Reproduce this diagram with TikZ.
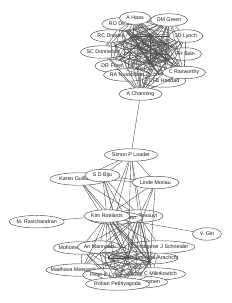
\documentclass[tikz,border=0pt]{standalone}
\usepackage{fontspec}
\setmainfont{Liberation Sans}
\usetikzlibrary{shapes.geometric}
\pgfdeclarelayer{bg}
\pgfdeclarelayer{mid}
\pgfsetlayers{bg,mid,main}
\newcommand\mb[1]{\makebox[0pt]{#1}}
\newcommand\mkclique[1]{%
  \foreach \a [count=\i] in {#1}{%
    \foreach \b [count=\j] in {#1}{%
      \ifnum\j>\i\relax \draw[ed] (\a) -- (\b);\fi}}}
\begin{document}
\begin{tikzpicture}[x=1pt,y=-1pt,
  nd/.style={ellipse,draw=black!72,fill=white,line width=0.45pt,inner sep=0pt,
    minimum height=12.5pt,font=\fontsize{5.3}{6}\selectfont,text=black!90},
  ed/.style={draw=black!68,line width=0.4pt}]
\useasboundingbox (0,0) rectangle (231,303);
% ---------- nodes under the edges
\begin{pgfonlayer}{bg}
\node[nd,minimum width=38pt] (desa) at (121,24) {\mb{RO De Sá}};
\node[nd,minimum width=41pt] (drewes) at (111,36) {\mb{RC Drewes}};
\node[nd,minimum width=34pt] (lynch) at (186,36) {\mb{JD Lynch}};
\node[nd,minimum width=45pt] (donn) at (103,52) {\mb{SC Donnellan}};
\node[nd,minimum width=33pt] (bain) at (185,54) {\mb{RH Bain}};
\node[nd,minimum width=34pt] (frost) at (112,66) {\mb{DR Frost}};
\node[nd,minimum width=47pt] (nuss) at (127,75) {\mb{RA Nussbaum}};
\node[nd,minimum width=44pt] (haddad) at (164,81) {\mb{CFB Haddad}};
\node[nd,minimum width=58pt] (karen) at (79,179) {\mb{Karen Guillaume}};
\node[nd,minimum width=48pt] (bossuyt) at (139,216) {\mb{Franky Bossuyt}};
\node[nd,minimum width=55pt] (bocx) at (115,218) {\mb{Ines Van Bocxlaer}};
\node[nd,minimum width=56pt] (bahir) at (81,248) {\mb{Mohomed M. Bahir}};
\node[nd,minimum width=43pt] (mann) at (99,247) {\mb{An Mannaert}};
\node[nd,minimum width=70pt] (manam) at (143,258) {\mb{Kelum Manamendra-Arachchi}};
\node[nd,minimum width=70pt] (schn) at (160,247) {\mb{Christopher J Schneider}};
\node[nd,minimum width=72pt] (meeg) at (82,270) {\mb{Madhava Meegaskumbura}};
\node[nd,minimum width=45pt] (ng) at (105,275) {\mb{Peter K L Ng}};
\node[nd,minimum width=67pt] (milin) at (152,274) {\mb{Michel C Milinkovitch}};
\node[nd,minimum width=65pt] (oommen) at (135,282) {\mb{Oommen V Oommen}};
\end{pgfonlayer}
% ---------- nodes above the edges
\node[nd,minimum width=31pt] (haas) at (135,18) {\mb{A Haas}};
\node[nd,minimum width=37pt] (green) at (169,20) {\mb{DM Green}};
\node[nd,minimum width=43pt] (rax) at (184,72.5) {\mb{C Raxworthy}};
\node[nd,minimum width=43pt] (chan) at (140.5,94) {\mb{A Channing}};
\node[nd,minimum width=53pt] (loader) at (131,155) {\mb{Simon P Loader}};
\node[nd,minimum width=35pt] (biju) at (102.5,175.5) {\mb{S D Biju}};
\node[nd,minimum width=47pt] (moriau) at (155.5,182.5) {\mb{Linde Moriau}};
\node[nd,minimum width=55pt] (ravi) at (36.7,221.7) {\mb{M. Ravichandran}};
\node[nd,minimum width=46pt] (roel) at (107,216) {\mb{Kim Roelants}};
\node[nd,minimum width=29pt] (giri) at (207,234) {\mb{V. Giri}};
\node[nd,minimum width=64pt] (rohan) at (117.5,284) {\mb{Rohan Pethiyagoda}};
% hidden ends inside the two line masses
\coordinate (t1) at (150,34);
\coordinate (t2) at (166,44);
\coordinate (t3) at (140,48);
\coordinate (t4) at (168,60);
\coordinate (t5) at (150,64);
\coordinate (t6) at (133,36);
\coordinate (t7) at (158,54);
\coordinate (gower) at (128,258);
\coordinate (wilk) at (150,262);
% ---------- edges
\begin{pgfonlayer}{mid}
\mkclique{desa,haas,green,drewes,lynch,donn,bain,frost,rax,nuss,haddad,chan,t1,t2,t3,t4,t5,t6,t7}
\draw[ed] (chan) -- (loader);
\mkclique{loader,biju,karen,moriau,roel,bossuyt,gower,wilk}
\foreach \p in {loader,biju,roel,bossuyt}{\draw[ed] (bocx) -- (\p);}
\draw[ed] (ravi) -- (roel);
\draw[ed] (giri) -- (bocx);
\mkclique{bossuyt,meeg,gower,rohan,roel,mann,wilk,bahir,manam,ng,schn,oommen,milin}
\end{pgfonlayer}
\end{tikzpicture}
\end{document}
